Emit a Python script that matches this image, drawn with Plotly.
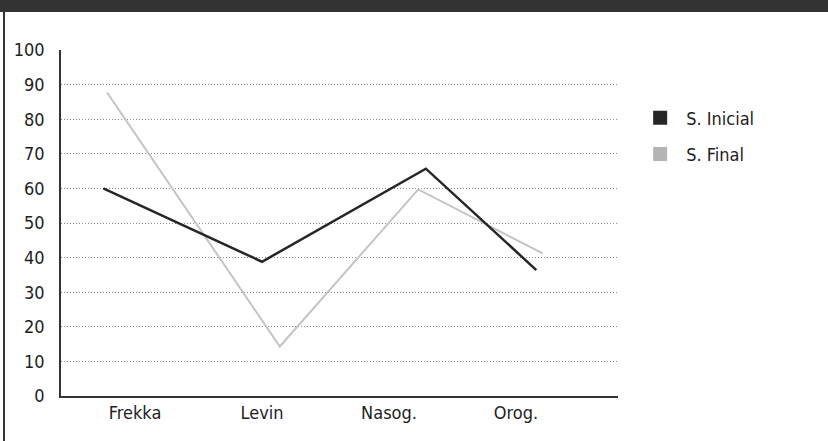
import plotly.graph_objects as go

categories = ["Frekka", "Levin", "Nasog.", "Orog."]
s_inicial = [60, 38.8, 65.7, 36.4]
s_final = [87.7, 14.3, 59.7, 41.2]
# horizontal placement of each series' points, in category units
x_inicial = [-0.25, 1.0, 2.29, 3.16]
x_final = [-0.22, 1.14, 2.23, 3.21]
y_ticks = [0, 10, 20, 30, 40, 50, 60, 70, 80, 90, 100]
series_names = ["S. Inicial", "S. Final"]

FONT = "DejaVu Sans Condensed, Liberation Sans Narrow, Roboto, sans-serif"
c_ini = "#262626"
c_fin = "#c4c4c4"

fig = go.Figure()
fig.add_trace(go.Scatter(x=x_final, y=s_final, mode="lines",
                         line=dict(color=c_fin, width=2), showlegend=False, hoverinfo="skip"))
fig.add_trace(go.Scatter(x=x_inicial, y=s_inicial, mode="lines",
                         line=dict(color=c_ini, width=2.5), showlegend=False, hoverinfo="skip"))
# legend entries (square swatches)
fig.add_trace(go.Scatter(x=[None], y=[None], mode="markers", name=series_names[0],
                         legendgroup="a",
                         marker=dict(symbol="square", size=14, color=c_ini)))
fig.add_trace(go.Scatter(x=[None], y=[None], mode="markers", name=series_names[1],
                         legendgroup="b",
                         marker=dict(symbol="square", size=14, color="#b4b4b4")))

fig.update_layout(
    width=828, height=441,
    margin=dict(l=61, r=210, t=50, b=45),
    paper_bgcolor="white", plot_bgcolor="white",
    font=dict(family=FONT, size=18, color="#1e1e1e"),
    legend=dict(x=1.029, y=0.857, xanchor="left", yanchor="top",
                font=dict(size=18, color="#1e1e1e"), tracegroupgap=10,
                itemwidth=42),
    xaxis=dict(range=[-0.583, 3.803], tickvals=list(range(len(categories))),
               ticktext=categories, showgrid=False,
               showline=True, linecolor="#333", linewidth=1.5, ticks="",
               tickfont=dict(size=18), ticklabelstandoff=0, zeroline=False),
    yaxis=dict(range=[0, 100], tickvals=y_ticks, showgrid=True,
               gridcolor="#8c8c8c", griddash="1px,2px", gridwidth=1,
               showline=True, linecolor="#333", linewidth=1.5, ticks="",
               tickfont=dict(size=18), ticklabelstandoff=11, zeroline=False),
    shapes=[
        dict(type="rect", xref="paper", yref="paper", x0=-0.12, x1=1.4,
             y0=(396 - 12) / 346, y1=(396 + 5) / 346 + 0.02,
             fillcolor="#333333", line=dict(width=0), layer="above"),
        dict(type="line", xref="paper", yref="paper", x0=(4 - 61) / 557, x1=(4 - 61) / 557,
             y0=(396 - 445) / 346, y1=(396 - 5) / 346,
             line=dict(color="#333333", width=2), layer="above"),
    ],
)

fig.write_html("out.html", config={"displayModeBar": False},
               post_script="document.body.style.margin='0';")
